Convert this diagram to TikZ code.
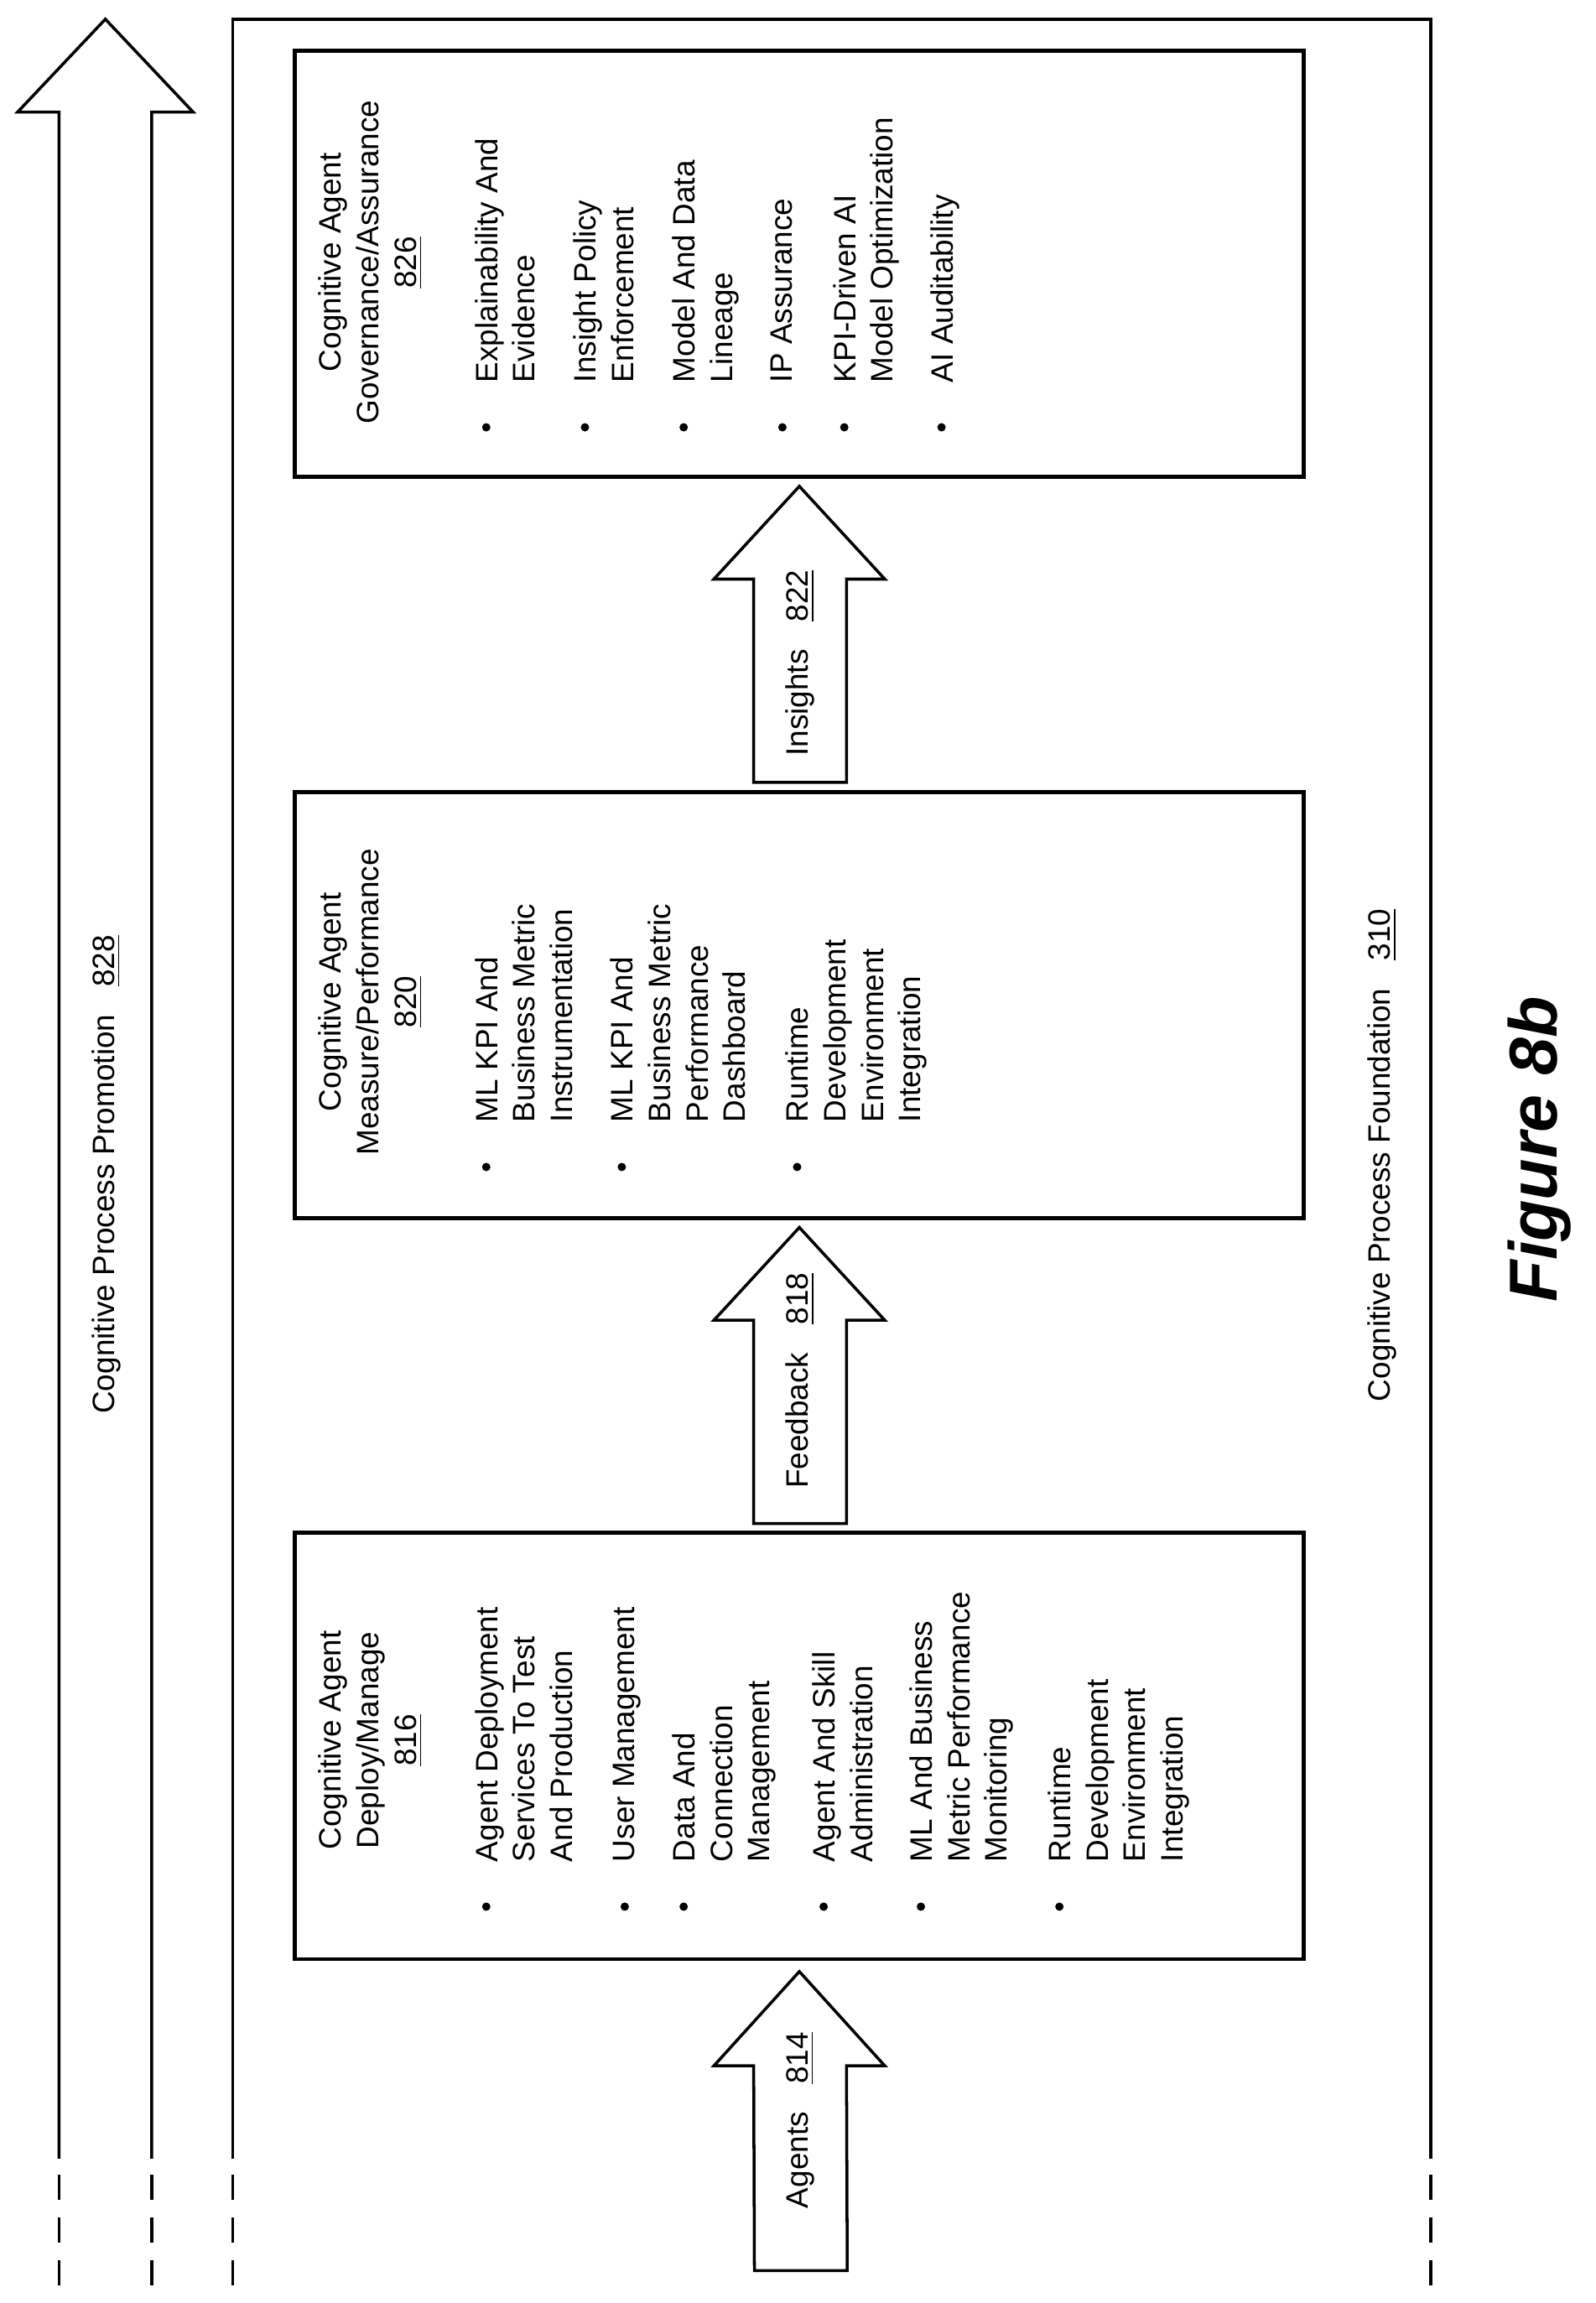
\documentclass[tikz,border=0pt]{standalone}
\usepackage{fontspec}
\setmainfont{Liberation Sans}
\usetikzlibrary{calc}
\newcommand{\txtsize}{\fontsize{10.5}{12.7}\selectfont}
\tikzset{
    box/.style={draw, line width=1.4pt, minimum width=12.03cm, minimum height=5.08cm, inner sep=0},
    item/.style={rotate=90, anchor=north west, align=left, inner sep=0, font=\txtsize},
    title/.style={rotate=90, anchor=north, align=center, inner sep=0, font=\txtsize},
    dot/.style={circle, fill, inner sep=0, minimum size=0.1cm},
    label/.style={rotate=90, inner sep=0, font=\txtsize},
    blockarrow/.style={draw, line width=1pt, fill=white},
    railline/.style={line width=1pt},
    raildash/.style={line width=1pt, dash pattern=on 8.5pt off 6pt}
}
\begin{document}
\begin{tikzpicture}[x=0.01757cm, y=-0.01757cm]
    \useasboundingbox (0,0) rectangle (1083,1563);

    % Promotion arrow and foundation frame
    \draw[railline] (40,1465) -- (40,76) -- (12,76) -- (71.5,13) -- (131,76) -- (103,76) -- (103,1465);
    \draw[railline] (158,1465) -- (158,13) -- (971,13) -- (971,1465);
    \foreach \xpos in {40, 103, 158, 971} {
        \draw[raildash] (\xpos,1476) -- (\xpos,1555);
    }
    \node[label] (promotion) at (72,797) {Cognitive Process Promotion\hspace{0.9em}\underline{828}};
    \node[label] (foundation) at (938,784) {Cognitive Process Foundation\hspace{0.9em}\underline{310}};

    % Boxes
    \node[box] (govern) at (542.5,179) {};
    \node[box] (measure) at (542.5,682) {};
    \node[box] (deploy) at (542.5,1185) {};
    \coordinate (agentsIn) at (543,1541);

    % Governance / Assurance
    \node[title] (governTitle) at (216,178) {Cognitive Agent\\Governance/Assurance\\\underline{826}};
    \foreach \xpos/\txt in {330/{Explainability And\\Evidence}, 397/{Insight Policy\\Enforcement}, 464/{Model And Data\\Lineage}, 531/{IP Assurance}, 573/{KPI-Driven AI\\Model Optimization}, 639/{AI Auditability}} {
        \node[dot] at (\xpos,290) {};
        \node[item] at (\xpos-8,260) {\txt};
    }

    % Measure / Performance
    \node[title] (measureTitle) at (216,680) {Cognitive Agent\\Measure/Performance\\\underline{820}};
    \foreach \xpos/\txt in {330/{ML KPI And\\Business Metric\\Instrumentation}, 422/{ML KPI And\\Business Metric\\Performance\\Dashboard}, 541/{Runtime\\Development\\Environment\\Integration}} {
        \node[dot] at (\xpos,792) {};
        \node[item] at (\xpos-8,762) {\txt};
    }

    % Deploy / Manage
    \node[title] (deployTitle) at (216,1181) {Cognitive Agent\\Deploy/Manage\\\underline{816}};
    \foreach \xpos/\txt in {330/{Agent Deployment\\Services To Test\\And Production}, 424/{User Management}, 464/{Data And\\Connection\\Management}, 559/{Agent And Skill\\Administration}, 625/{ML And Business\\Metric Performance\\Monitoring}, 719/{Runtime\\Development\\Environment\\Integration}} {
        \node[dot] at (\xpos,1294) {};
        \node[item] at (\xpos-8,1264) {\txt};
    }

    % Block arrows
    \draw[blockarrow] ($(measure.north)+(-31,-5)$) -- ($(govern.south)+(-31,68)$) -- ($(govern.south)+(-58,68)$)
        -- ($(govern.south)+(0,5)$) -- ($(govern.south)+(58,68)$) -- ($(govern.south)+(32,68)$) -- ($(measure.north)+(32,-5)$) -- cycle;
    \draw[blockarrow] ($(deploy.north)+(-31,-5)$) -- ($(measure.south)+(-31,68)$) -- ($(measure.south)+(-58,68)$)
        -- ($(measure.south)+(0,5)$) -- ($(measure.south)+(58,68)$) -- ($(measure.south)+(32,68)$) -- ($(deploy.north)+(32,-5)$) -- cycle;
    \draw[blockarrow] ($(agentsIn)+(-31,0)$) -- ($(deploy.south)+(-31,71)$) -- ($(deploy.south)+(-58,71)$)
        -- ($(deploy.south)+(0,7)$) -- ($(deploy.south)+(58,71)$) -- ($(deploy.south)+(32,71)$) -- ($(agentsIn)+(32,0)$) -- cycle;
    \node[label] (insights) at (543,450) {Insights\hspace{0.9em}\underline{822}};
    \node[label] (feedback) at (543,937) {Feedback\hspace{0.9em}\underline{818}};
    \node[label] (agents) at (543,1439) {Agents\hspace{0.9em}\underline{814}};

    \node[rotate=90, inner sep=0, font=\fontsize{23}{27}\selectfont\bfseries\itshape] (figure) at (1045,780) {Figure 8b};
\end{tikzpicture}
\end{document}
